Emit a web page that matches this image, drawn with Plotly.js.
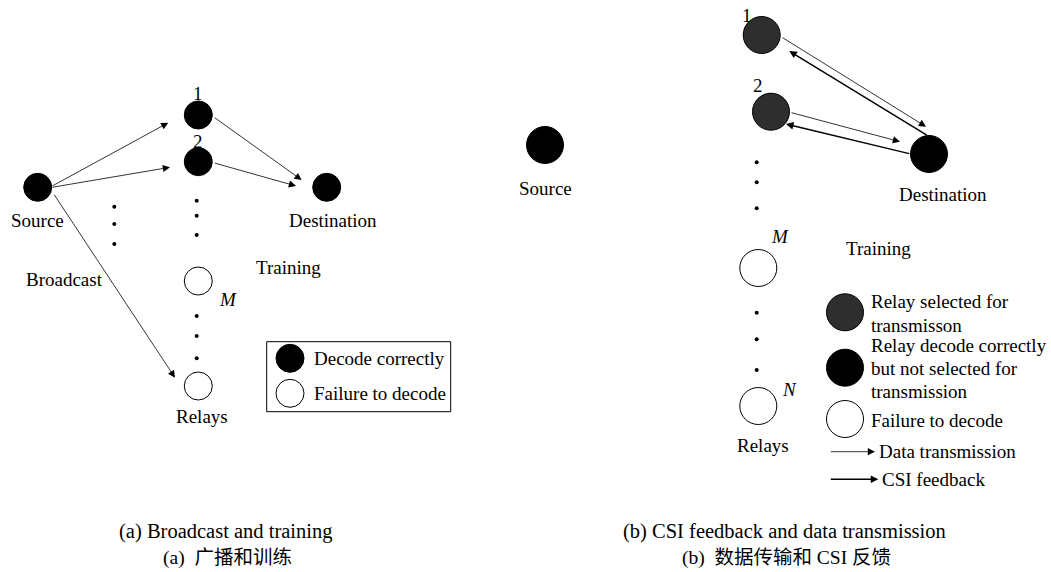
<!DOCTYPE html>
<html>
<head>
<meta charset="utf-8">
<script src="https://cdn.plot.ly/plotly-3.0.1.min.js"></script>
<style>html,body{margin:0;padding:0;background:#fff;}#plot{width:1051px;height:572px;}</style>
</head>
<body>
<div id="plot"></div>
<script>
// ---------- Panel (a): broadcast and training ----------
const aDecodedX = [37.7, 198.3, 198.3, 326.7];
const aDecodedY = [187.3, 115, 161.7, 187.3];
const aFailedX = [198.3, 198.3];
const aFailedY = [281, 386];
const aDotsX = [196.7, 196.7, 196.7, 114.3, 114.3, 114.3, 196.7, 196.7, 196.7];
const aDotsY = [200.7, 215.7, 235, 206.7, 224, 244, 316, 336, 358.3];
// arrows: [tailX, tailY, headX, headY]
const aArrows = [
  [51, 186.7, 168.3, 122.7],
  [51, 187.5, 170, 167.3],
  [53.3, 193.3, 175, 377.7],
  [213.3, 116.7, 301.7, 180],
  [213.3, 162.7, 296, 186]
];
const aLabels = ["1", "2", "Source", "Destination", "Training", "Broadcast", "<i>M</i>", "Relays"];
const aLabelX = [198, 198, 37.7, 333, 288.7, 64.3, 227.7, 201.7];
const aLabelY = [93, 141, 220, 220, 267.3, 279.3, 299.3, 416];
const aLegendText = ["Decode correctly", "Failure to decode"];
const aLegendMarkX = [290, 290];
const aLegendMarkY = [358.3, 393.3];

// ---------- Panel (b): CSI feedback and data transmission ----------
const bSelectedX = [761.7, 771];
const bSelectedY = [35, 111.7];
const bDecodedX = [545, 929];
const bDecodedY = [145, 154];
const bFailedX = [758.3, 758.3];
const bFailedY = [268, 406];
const bDotsX = [756.7, 756.7, 756.7, 756.7, 756.7, 756.7];
const bDotsY = [162.3, 182.3, 208.3, 312.7, 339.3, 370];
const bDataArrows = [
  [781, 36.7, 926, 126.7],
  [790, 112.3, 900, 141.7]
];
const bCsiArrows = [
  [928.3, 136, 789.3, 51],
  [910.7, 154, 786, 124]
];
const bLabels = ["Source", "1", "2", "Destination", "<i>M</i>", "Training", "<i>N</i>", "Relays"];
const bLabelX = [545, 746.7, 758.3, 942.7, 780, 878.3, 789.3, 762.7];
const bLabelY = [188.3, 15, 85, 194, 236.7, 248.3, 389.3, 445.7];
const bLegendText = ["Relay selected for", "transmisson", "Relay decode correctly",
  "but not selected for", "transmission", "Failure to decode"];
const bLegendTextY = [301.7, 325, 345, 368.3, 391.7, 420];
const bLegendMarkX = [845, 845, 845];
const bLegendMarkY = [312.3, 367.7, 419];
const bArrowLegendText = ["Data transmission", "CSI feedback"];

const captions = ["(a) Broadcast and training", "(a)\u00a0\u00a0广播和训练",
  "(b) CSI feedback and data transmission", "(b)\u00a0\u00a0数据传输和 CSI 反馈"];
const captionX = [225.8, 227.5, 784.7, 786];
const captionY = [531.7, 558.3, 531.7, 558.3];

// ---------- build ----------
const SERIF = "Liberation Serif, Times New Roman, serif";
const CJK = "Liberation Serif, Noto Sans CJK SC, serif";
const black = "#000";
const hatch = "#2e2e2e";

function nodes(x, y, size, fill, lw) {
  return {x: x, y: y, type: "scatter", mode: "markers", hoverinfo: "skip", showlegend: false,
    marker: {size: size, color: fill, line: {color: black, width: lw}}};
}

const traces = [
  nodes(aDecodedX, aDecodedY, 28, black, 1),
  nodes(aFailedX, aFailedY, 28, "#fff", 1),
  nodes(aDotsX, aDotsY, 4, black, 0),
  nodes(aLegendMarkX.slice(0, 1), aLegendMarkY.slice(0, 1), 28, black, 1),
  nodes(aLegendMarkX.slice(1), aLegendMarkY.slice(1), 28, "#fff", 1),
  nodes(bSelectedX, bSelectedY, 37, hatch, 1),
  nodes(bDecodedX, bDecodedY, 37, black, 1),
  nodes(bFailedX, bFailedY, 37, "#fff", 1),
  nodes(bDotsX, bDotsY, 4, black, 0),
  nodes([bLegendMarkX[0]], [bLegendMarkY[0]], 37, hatch, 1),
  nodes([bLegendMarkX[1]], [bLegendMarkY[1]], 37, black, 1),
  nodes([bLegendMarkX[2]], [bLegendMarkY[2]], 37, "#fff", 1)
];

const ann = [];
function arrow(a, w, size) {
  ann.push({x: a[2], y: a[3], ax: a[0], ay: a[1], xref: "x", yref: "y", axref: "x", ayref: "y",
    text: "", showarrow: true, arrowhead: 2, arrowsize: size, arrowwidth: w, arrowcolor: black, standoff: 0, startstandoff: 0});
}
function label(t, x, y, anchor, fam, size) {
  ann.push({x: x, y: y, xref: "x", yref: "y", text: t, showarrow: false, xanchor: anchor || "center",
    yanchor: "middle", font: {family: fam || SERIF, size: size || 19, color: black}});
}
aArrows.forEach(a => arrow(a, 0.8, 1.8));
bDataArrows.forEach(a => arrow(a, 0.8, 1.8));
bCsiArrows.forEach(a => arrow(a, 1.5, 1.0));
// legend arrows of panel (b)
arrow([829.3, 451.7, 875, 451.7], 0.8, 1.8);
arrow([829.3, 479.3, 878.3, 479.3], 1.5, 1.0);

aLabels.forEach((t, i) => label(t, aLabelX[i], aLabelY[i]));
aLegendText.forEach((t, i) => label(t, 311.7, aLegendMarkY[i], "left"));
bLabels.forEach((t, i) => label(t, bLabelX[i], bLabelY[i]));
bLegendText.forEach((t, i) => label(t, 869, bLegendTextY[i], "left"));
label(bArrowLegendText[0], 876.7, 451.7, "left");
label(bArrowLegendText[1], 879.5, 479.3, "left");
captions.forEach((t, i) => label(t, captionX[i], captionY[i], "center", i % 2 ? CJK : SERIF, i % 2 ? 19.5 : 20.5));

const layout = {
  width: 1051, height: 572,
  margin: {l: 0, r: 0, t: 0, b: 0},
  paper_bgcolor: "#fff", plot_bgcolor: "#fff",
  xaxis: {range: [0, 1051], visible: false, fixedrange: true},
  yaxis: {range: [572, 0], visible: false, fixedrange: true},
  showlegend: false,
  annotations: ann,
  shapes: [{type: "rect", xref: "x", yref: "y", x0: 266.7, x1: 450.7, y0: 341.7, y1: 411.7,
    line: {color: black, width: 1}, fillcolor: "rgba(0,0,0,0)", layer: "below"}]
};

Plotly.newPlot("plot", traces, layout, {staticPlot: true, displayModeBar: false});
</script>
</body>
</html>
